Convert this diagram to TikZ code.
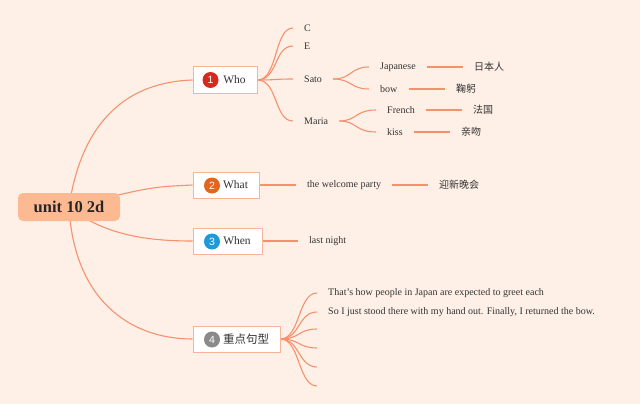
\documentclass[tikz,border=0pt]{standalone}
\usepackage{fontspec}
\setmainfont{Liberation Serif}
\newfontfamily\cjk{Noto Sans CJK SC}
\newfontfamily\badgefont{Liberation Sans}
\pgfdeclarelayer{bg}
\pgfdeclarelayer{lines}
\pgfsetlayers{bg,lines,main}
\definecolor{bgc}{HTML}{FEF0E7}
\definecolor{linec}{HTML}{F6916E}
\definecolor{boxline}{HTML}{F8B496}
\definecolor{rootfill}{HTML}{FDBA92}
\definecolor{txt}{HTML}{333333}
\definecolor{b1}{HTML}{D52A1F}
\definecolor{b2}{HTML}{E2661D}
\definecolor{b3}{HTML}{1D9ADA}
\definecolor{b4}{HTML}{8A8A8A}
\tikzset{
  conn/.style={draw=linec, line width=1.1pt},
  rootbox/.style={fill=rootfill, rounded corners=5pt, minimum width=102pt, minimum height=28pt, inner sep=0pt, font=\fontsize{16.5}{18}\selectfont\bfseries, text=black!85},
  topbox/.style={draw=boxline, line width=1pt, fill=white, minimum height=26pt, inner sep=0pt, font=\fontsize{11.5}{13}\selectfont, text=txt},
  badge/.style={circle, minimum size=16pt, inner sep=0pt, text=white, font=\badgefont\fontsize{10.5}{11}\selectfont},
  leaf/.style={anchor=west, inner xsep=11pt, inner ysep=2pt, font=\fontsize{10}{12}\selectfont, text=txt},
  cleaf/.style={leaf, font=\cjk\fontsize{10}{12}\selectfont},
  sleaf/.style={leaf, font=\fontsize{10}{12}\selectfont},
}
\begin{document}
\begin{tikzpicture}[x=1pt, y=-1pt]
\begin{pgfonlayer}{bg}
\fill[bgc] (0,0) rectangle (640,404);
\end{pgfonlayer}
\useasboundingbox (0,0) rectangle (640,404);

% root and main topics
\node[rootbox] (root) at (69,207) {unit 10 2d};
\node[topbox, minimum width=64pt] (who) at (225,80) {\hspace{19pt}Who};
\node[badge, fill=b1] (n1) at (210.5,80) {1};
\node[topbox, minimum width=66pt] (what) at (226,185) {\hspace{19pt}What};
\node[badge, fill=b2] (n2) at (212,185.5) {2};
\node[topbox, minimum width=69pt] (when) at (227.5,241) {\hspace{19pt}When};
\node[badge, fill=b3] (n3) at (212,241.5) {3};
\node[topbox, minimum width=87pt] (key) at (236.5,339) {\hspace{19pt}{\cjk 重点句型}};
\node[badge, fill=b4] (n4) at (212,339.5) {4};

% Who branch
\node[leaf] (c) at (293,28) {C};
\node[leaf] (e) at (293,46) {E};
\node[leaf] (sato) at (293,79) {Sato};
\node[leaf] (maria) at (293,121) {Maria};
\node[leaf] (jap) at (369,67) {Japanese};
\node[leaf] (bow) at (369,89) {bow};
\node[cleaf] (rbr) at (463,67) {日本人};
\node[cleaf] (jg) at (445,89) {鞠躬};
\node[leaf] (french) at (376,110) {French};
\node[leaf] (kiss) at (376,132) {kiss};
\node[cleaf] (fg) at (462,110) {法国};
\node[cleaf] (qw) at (450,132) {亲吻};

% What / When
\node[leaf] (party) at (296,185) {the welcome party};
\node[cleaf] (yxwh) at (428,185) {迎新晚会};
\node[leaf] (night) at (298,241) {last night};

% key sentences
\node[sleaf] (s1) at (317,293) {That’s how people in Japan are expected to greet each};
\node[sleaf] (s2) at (317,312) {So I just stood there with my hand out. Finally, I returned the bow.};
\coordinate (s3) at (317,329);
\coordinate (s4) at (317,348);
\coordinate (s5) at (317,367);
\coordinate (s6) at (317,386);

\begin{pgfonlayer}{lines}
\draw[conn] (root.center) .. controls (82,118) and (130,82) .. (who.west);
\draw[conn] (root.center) .. controls (150,187) .. (what.west);
\draw[conn] (root.center) .. controls (105,236) and (150,241) .. (when.west);
\draw[conn] (root.center) .. controls (74,300) and (130,339) .. (key.west);

\foreach \t in {c,e,sato,maria}
  \draw[conn] (who.east) .. controls (278,80) and (274,0|-\t.west) .. (\t.west);
\foreach \t in {jap,bow}
  \draw[conn] (sato.east) .. controls (352,79) and (350,0|-\t.west) .. (\t.west);
\foreach \t in {french,kiss}
  \draw[conn] (maria.east) .. controls (357,121) and (355,0|-\t.west) .. (\t.west);
\draw[conn] (jap.east) -- (rbr.west);
\draw[conn] (bow.east) -- (jg.west);
\draw[conn] (french.east) -- (fg.west);
\draw[conn] (kiss.east) -- (qw.west);

\draw[conn] (what.east) -- (party.west);
\draw[conn] (party.east) -- (yxwh.west);
\draw[conn] (when.east) -- (night.west);

\foreach \t in {s1.west,s2.west,s3,s4,s5,s6}
  \draw[conn] (key.east) .. controls (300,339) and (298,0|-\t) .. (\t);
\end{pgfonlayer}
\end{tikzpicture}
\end{document}
